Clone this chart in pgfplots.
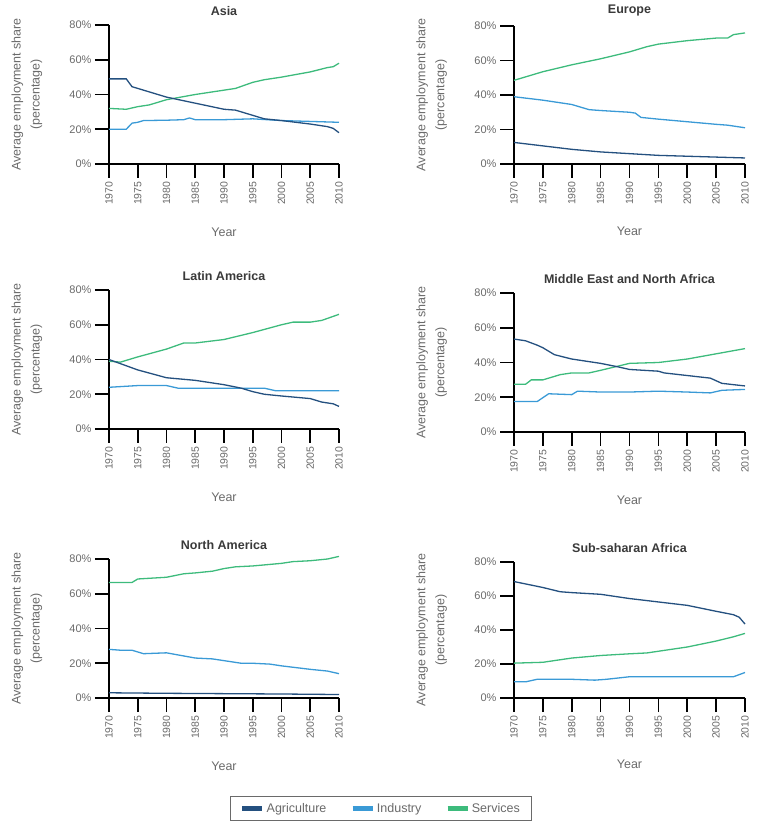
\documentclass[border=0pt]{standalone}
\usepackage{fontspec}
\setmainfont{Liberation Sans}
\usepackage{pgfplots}
\pgfplotsset{compat=1.18}
\definecolor{agri}{HTML}{24507F}
\definecolor{indu}{HTML}{3A9AD6}
\definecolor{serv}{HTML}{3DBB7C}
\definecolor{txt}{HTML}{6A6A6A}
\definecolor{ttl}{HTML}{3A3A3A}
\newcommand\panelticks{%
  \pgfplotsinvokeforeach{0,20,40,60,80}{\draw[line width=1.6pt, black] (axis cs:1970,##1) -- ++(-14pt,0pt);}%
  \pgfplotsinvokeforeach{1970,1975,1980,1985,1990,1995,2000,2005,2010}{\draw[line width=1.6pt, black] (axis cs:##1,0) -- ++(0pt,-12pt);}%
}
\pgfplotsset{
 panel/.style={
  scale only axis, width=230pt, height=139pt,
  xmin=1970, xmax=2010, ymin=0, ymax=80,
  axis x line=bottom, axis y line=left,
  x axis line style={-}, y axis line style={-},
  axis line style={line width=1.6pt, black},
  xtick={1970,1975,...,2010}, ytick={0,20,...,80},
  tick align=outside, major tick length=14pt,
  tick style={line width=1.6pt, black},
  clip=false,
  /pgf/number format/assume math mode=true,
  /pgf/number format/1000 sep={},
  xticklabel style={rotate=90, anchor=east, font=\fontsize{10.5}{12}\selectfont, text=txt},
  yticklabel style={font=\fontsize{11}{12}\selectfont, text=txt},
  yticklabel={\pgfmathprintnumber{\tick}\%},
  xlabel={Year},
  xlabel style={at={(0.5,-0.489)}, anchor=center, font=\fontsize{12.5}{14}\selectfont, text=txt},
  ylabel={Average employment share\\(percentage)},
  ylabel style={at={(-0.357,0.5)}, anchor=center, align=center, font=\fontsize{12.5}{19}\selectfont, text=txt},
  title style={font=\bfseries\fontsize{12.5}{15}\selectfont, text=ttl},
  every axis plot/.append style={line width=1.3pt, no markers},
 },
 agr/.style={agri}, ind/.style={indu}, ser/.style={serv},
}
\begin{document}
\begin{tikzpicture}
\path (0,0) rectangle (756pt,825pt);
% Asia
\begin{axis}[panel, at={(109pt,661pt)}, anchor=south west, title={Asia}]
\addplot[ind] coordinates {(1970,20) (1973,20) (1974,23.5) (1975,24) (1976,25) (1980,25.2) (1983,25.5) (1984,26.5) (1985,25.5) (1990,25.5) (1995,26) (2000,25) (2005,24.5) (2010,24)};
\addplot[ser] coordinates {(1970,32) (1973,31.5) (1975,33) (1977,34) (1980,37) (1985,40) (1990,42.5) (1992,43.5) (1995,47) (1997,48.5) (2000,50) (2005,53) (2008,55.5) (2009,56) (2010,58)};
\addplot[agr] coordinates {(1970,49) (1973,49) (1974,44.5) (1975,43.5) (1980,38.5) (1985,35) (1990,31.5) (1992,31) (1995,28) (1997,26) (2000,25) (2005,23) (2008,21.5) (2009,20.5) (2010,18)};
\panelticks
\end{axis}
% Europe
\begin{axis}[panel, at={(514pt,661pt)}, anchor=south west, width=231pt, height=138pt, title={Europe}]
\addplot[ind] coordinates {(1970,39) (1975,37) (1980,34.5) (1983,31.5) (1985,31) (1990,30) (1991,29.5) (1992,27) (1995,26) (2000,24.5) (2005,23) (2007,22.5) (2010,21)};
\addplot[ser] coordinates {(1970,48.5) (1975,53.5) (1980,57.5) (1985,61) (1990,65) (1993,68) (1995,69.5) (2000,71.5) (2005,73) (2007,73) (2008,75) (2010,76)};
\addplot[agr] coordinates {(1970,12.5) (1975,10.5) (1980,8.5) (1985,7) (1990,6) (1995,5) (2000,4.5) (2005,4) (2010,3.5)};
\panelticks
\end{axis}
% Latin America
\begin{axis}[panel, at={(109pt,396pt)}, anchor=south west, title={Latin America}]
\addplot[ind] coordinates {(1970,24) (1975,25) (1980,25) (1982,23.5) (1985,23.5) (1990,23.5) (1995,23.5) (1997,23.5) (1999,22) (2005,22) (2010,22)};
\addplot[ser] coordinates {(1970,39) (1972,38.5) (1975,41.5) (1980,46) (1983,49.5) (1985,49.5) (1990,51.5) (1995,55.5) (2000,60) (2002,61.5) (2005,61.5) (2007,62.5) (2010,66)};
\addplot[agr] coordinates {(1970,40) (1975,34) (1980,29.5) (1985,28) (1990,25.5) (1993,23.5) (1995,21.5) (1997,20) (2000,19) (2005,17.5) (2007,15.5) (2009,14.5) (2010,13)};
\panelticks
\end{axis}
% MENA
\begin{axis}[panel, at={(514pt,393pt)}, anchor=south west, width=231pt, title={Middle East and North Africa}]
\addplot[ind] coordinates {(1970,17.5) (1974,17.5) (1976,22) (1980,21.5) (1981,23.5) (1985,23) (1990,23) (1995,23.5) (2000,23) (2004,22.5) (2006,24) (2010,24.5)};
\addplot[ser] coordinates {(1970,27.5) (1972,27.5) (1973,30) (1975,30) (1978,33) (1980,34) (1983,34) (1985,35.5) (1990,39.5) (1995,40) (2000,42) (2005,45) (2010,48)};
\addplot[agr] coordinates {(1970,53.5) (1972,52.5) (1974,50) (1975,48.5) (1977,44.5) (1980,42) (1985,39.5) (1988,37.5) (1990,36) (1995,35) (1996,34) (2000,32.5) (2004,31) (2006,28) (2010,26.5)};
\panelticks
\end{axis}
% North America
\begin{axis}[panel, at={(109pt,127pt)}, anchor=south west, title={North America},
  legend style={at={(1.1826,-0.795)}, anchor=center, legend columns=3, draw=txt, line width=0.8pt,
    font=\fontsize{12.5}{14}\selectfont, text=txt, inner xsep=10pt, inner ysep=5pt,
    /tikz/every even column/.append style={column sep=22pt}},
  legend image code/.code={\draw[line width=4.5pt] (0pt,0pt) -- (20pt,0pt);}]
\addplot[agr] coordinates {(1970,3) (1980,2.7) (1990,2.5) (2000,2.3) (2010,2)};
\addlegendentry{Agriculture}
\addplot[ind] coordinates {(1970,28) (1972,27.5) (1974,27.5) (1976,25.5) (1980,26) (1985,23) (1988,22.5) (1990,21.5) (1993,20) (1995,20) (1998,19.5) (2000,18.5) (2005,16.5) (2008,15.5) (2010,14)};
\addlegendentry{Industry}
\addplot[ser] coordinates {(1970,66.5) (1974,66.5) (1975,68.5) (1980,69.5) (1983,71.5) (1985,72) (1988,73) (1990,74.5) (1992,75.5) (1995,76) (2000,77.5) (2002,78.5) (2005,79) (2008,80) (2010,81.5)};
\addlegendentry{Services}
\panelticks
\end{axis}
% Sub-saharan Africa
\begin{axis}[panel, at={(514pt,127pt)}, anchor=south west, width=231pt, height=136pt, title={Sub-saharan Africa}]
\addplot[ind] coordinates {(1970,9.5) (1972,9.5) (1974,11) (1980,11) (1984,10.5) (1986,11) (1990,12.5) (1995,12.5) (2000,12.5) (2008,12.5) (2010,15)};
\addplot[ser] coordinates {(1970,20.5) (1975,21) (1980,23.5) (1985,25) (1990,26) (1993,26.5) (1995,27.5) (2000,30) (2005,33.5) (2008,36) (2010,38)};
\addplot[agr] coordinates {(1970,68.5) (1975,65) (1978,62.5) (1980,62) (1985,61) (1990,58.5) (1995,56.5) (2000,54.5) (2005,51) (2008,49) (2009,47.5) (2010,43.5)};
\panelticks
\end{axis}
\end{tikzpicture}
\end{document}
